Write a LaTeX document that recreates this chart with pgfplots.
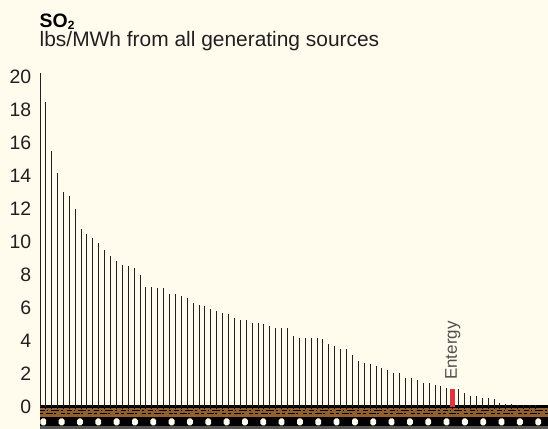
\documentclass[border=0pt]{standalone}
\usepackage{fontspec}
\setmainfont{Liberation Sans}
\usepackage{pgfplots}
\pgfplotsset{compat=1.18}
\usepackage{pgfplotstable}

\definecolor{paper}{RGB}{255,252,238}
\definecolor{ink}{RGB}{35,31,32}
\definecolor{rust}{RGB}{146,96,46}
\definecolor{markred}{RGB}{222,54,60}
\definecolor{stripgray}{RGB}{85,85,85}
\definecolor{labelgray}{RGB}{80,80,80}

% SO2 emission rate per utility, sorted from highest to lowest
\pgfplotstableread{
k so2
0 18.44
1 15.48
2 14.13
3 12.98
4 12.74
5 11.97
6 10.74
7 10.45
8 10.23
9 9.91
10 9.50
11 9.10
12 8.80
13 8.59
14 8.52
15 8.37
16 7.95
17 7.26
18 7.26
19 7.16
20 7.16
21 6.80
22 6.80
23 6.70
24 6.58
25 6.29
26 6.18
27 6.09
28 5.89
29 5.79
30 5.67
31 5.59
32 5.37
33 5.26
34 5.25
35 5.06
36 5.05
37 4.97
38 4.88
39 4.77
40 4.77
41 4.77
42 4.26
43 4.15
44 4.15
45 4.15
46 4.15
47 4.07
48 3.77
49 3.65
50 3.47
51 3.47
52 3.15
53 2.76
54 2.66
55 2.56
56 2.45
57 2.35
58 2.23
59 2.03
60 2.03
61 1.73
62 1.73
63 1.61
64 1.42
65 1.42
66 1.32
67 1.23
68 1.13
70 1.04
71 0.84
72 0.64
73 0.64
74 0.52
75 0.52
76 0.44
77 0.23
78 0.15
79 0.15
80 0.09
81 0.09
82 0.09
83 0.09
}\sotwo

\begin{document}
\begin{tikzpicture}
% page background
\path[use as bounding box, fill=paper] (0,0) rectangle (548bp,429bp);

% film-strip band under the baseline
\begin{scope}[x=1bp, y=1bp]
  \fill[rust] (40,12.3) rectangle (548,22);
  \fill[black] (40,2.7) rectangle (548,12.3);
  \fill[stripgray] (40,0) rectangle (548,2.7);
  \draw[black, line width=1, dash pattern=on 5 off 2 on 1 off 3 on 8 off 2 on 2 off 4]
    (40,19) -- (548,19);
  \draw[black, line width=1, dash pattern=on 3 off 3 on 7 off 1 on 2 off 5 on 4 off 2]
    (40,15.7) -- (548,15.7);
  \foreach \j in {0,...,27}
    \fill[paper, rounded corners=1.8] ({40.4+18.33*\j},3.6) rectangle ++(5.8,7);
\end{scope}

\begin{axis}[
  at={(40bp,22.5bp)}, anchor=south west,
  scale only axis, width=508bp, height=333.3bp,
  xmin=-0.966, xmax=85.14, ymin=0, ymax=20.2,
  clip=false,
  axis lines*=left,
  x axis line style={draw=black, line width=2bp},
  y axis line style={draw=ink, line width=1bp},
  xtick={0,...,83}, xticklabels={},
  xtick style={draw=black, line width=1bp},
  ytick={0,2,...,20},
  ytick style={draw=none},
  tick align=outside,
  major tick length=2.5bp,
  /pgf/number format/assume math mode=true,
  yticklabel style={font=\fontsize{19.5}{19.5}\selectfont, text=ink, anchor=east, inner sep=0pt, xshift=-6bp},
]
\addplot[ycomb, draw=ink, line width=1bp, mark=none] table[x=k, y=so2] {\sotwo};
\addplot[ycomb, draw=markred, line width=5.3bp, mark=none] coordinates {(69,1.06)};
\node[yshift=9bp, rotate=90, anchor=west, inner sep=0pt, text=labelgray,
      font=\fontsize{17}{17}\selectfont] at (axis cs:69,1.06) {Entergy};
\end{axis}

\node[anchor=base west, inner sep=0pt, font=\fontsize{19.5}{19.5}\selectfont\bfseries]
  at (39.5bp,401bp) {SO\raisebox{-1.2bp}{\fontsize{12}{12}\selectfont 2}};
\node[anchor=base west, inner sep=0pt, font=\fontsize{21}{21}\selectfont, text=ink]
  at (39.5bp,382.3bp) {lbs/MWh from all generating sources};
\end{tikzpicture}
\end{document}
